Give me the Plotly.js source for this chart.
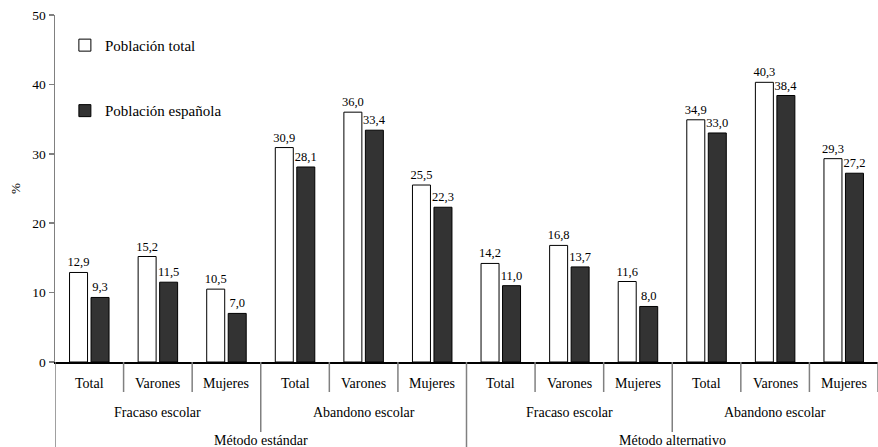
<!DOCTYPE html>
<html><head><meta charset="utf-8">
<script src="https://cdn.plot.ly/plotly-3.0.1.min.js"></script>
<style>html,body{margin:0;padding:0;background:#fff}</style>
</head><body><div id="chart" style="width:878px;height:447px"></div>
<script>
const level1 = ["Total","Varones","Mujeres","Total","Varones","Mujeres","Total","Varones","Mujeres","Total","Varones","Mujeres"];
const level2 = ["Fracaso escolar","Abandono escolar","Fracaso escolar","Abandono escolar"];
const level3 = ["Método estándar","Método alternativo"];
const poblacionTotal = [12.9,15.2,10.5,30.9,36.0,25.5,14.2,16.8,11.6,34.9,40.3,29.3];
const poblacionEspanola = [9.3,11.5,7.0,28.1,33.4,22.3,11.0,13.7,8.0,33.0,38.4,27.2];
const seriesNames = ["Población total","Población española"];

const xs = level1.map((_, i) => i);
const FONT = 'Liberation Serif';

const traces = [
  {type:'bar', x:xs, y:poblacionTotal, name:seriesNames[0], legendgroup:'a',
   marker:{color:'#ffffff', line:{color:'#000000', width:1}},
   texttemplate:'%{y:.1f}', textposition:'outside', cliponaxis:false, constraintext:'none',
   textfont:{family:FONT, size:12.5, color:'#000'}, hoverinfo:'skip'},
  {type:'bar', x:xs, y:poblacionEspanola, name:seriesNames[1], legendgroup:'b',
   marker:{color:'#333333', line:{color:'#000000', width:1}},
   texttemplate:'%{y:.1f}', textposition:'outside', cliponaxis:false, constraintext:'none',
   textfont:{family:FONT, size:12.5, color:'#000'}, hoverinfo:'skip'}
];

const plotH = 447 - 15 - 85;
const py = px => -px / plotH;

const annotations = [];
const shapes = [];
level1.forEach((t, i) => annotations.push({x:i, y:0, xref:'x', yref:'paper', text:t, showarrow:false,
  yanchor:'middle', yshift:-21, font:{family:FONT, size:14, color:'#000'}}));
level2.forEach((t, j) => annotations.push({x:j*3+1, y:0, xref:'x', yref:'paper', text:t, showarrow:false,
  yanchor:'middle', yshift:-50, font:{family:FONT, size:14, color:'#000'}}));
level3.forEach((t, k) => annotations.push({x:k*6+2.5, y:0, xref:'x', yref:'paper', text:t, showarrow:false,
  yanchor:'middle', yshift:-78, font:{family:FONT, size:14, color:'#000'}}));

for (let b = 0; b <= 12; b++) {
  let depth;
  if (b % 6 === 0) depth = 85; else if (b % 3 === 0) depth = 70; else depth = 30;
  if (b === 12) depth = 30;
  shapes.push({type:'line', xref:'x', yref:'paper', x0:b-0.5, x1:b-0.5, y0:0, y1:py(depth),
    line:{color:'#808080', width:1.5}});
}

const layout = {
  width:878, height:447,
  margin:{l:55, r:0, t:15, b:85},
  paper_bgcolor:'#fff', plot_bgcolor:'#fff',
  separators:',.',
  font:{family:FONT, size:13, color:'#000'},
  barmode:'group', bargap:0.373, bargroupgap:0.163,
  showlegend:true,
  legend:{x:0.012, y:0.96, xanchor:'left', yanchor:'top', tracegroupgap:43, traceorder:'grouped',
    font:{family:FONT, size:15, color:'#000'}, bgcolor:'rgba(0,0,0,0)'},
  xaxis:{range:[-0.5, 11.5], showticklabels:false, ticks:'', showgrid:false, zeroline:false,
    showline:true, linecolor:'#000', linewidth:1.5, fixedrange:true},
  yaxis:{range:[0,50], dtick:10, ticks:'outside', ticklen:5, tickcolor:'#808080', tickwidth:1.5,
    showline:true, linecolor:'#808080', linewidth:1.5, showgrid:false, zeroline:false,
    tickfont:{family:FONT, size:13.5, color:'#000'},
    title:{text:'%', font:{family:FONT, size:13, color:'#000'}, standoff:8}},
  annotations, shapes
};

Plotly.newPlot('chart', traces, layout, {displayModeBar:false, staticPlot:true});
</script></body></html>
